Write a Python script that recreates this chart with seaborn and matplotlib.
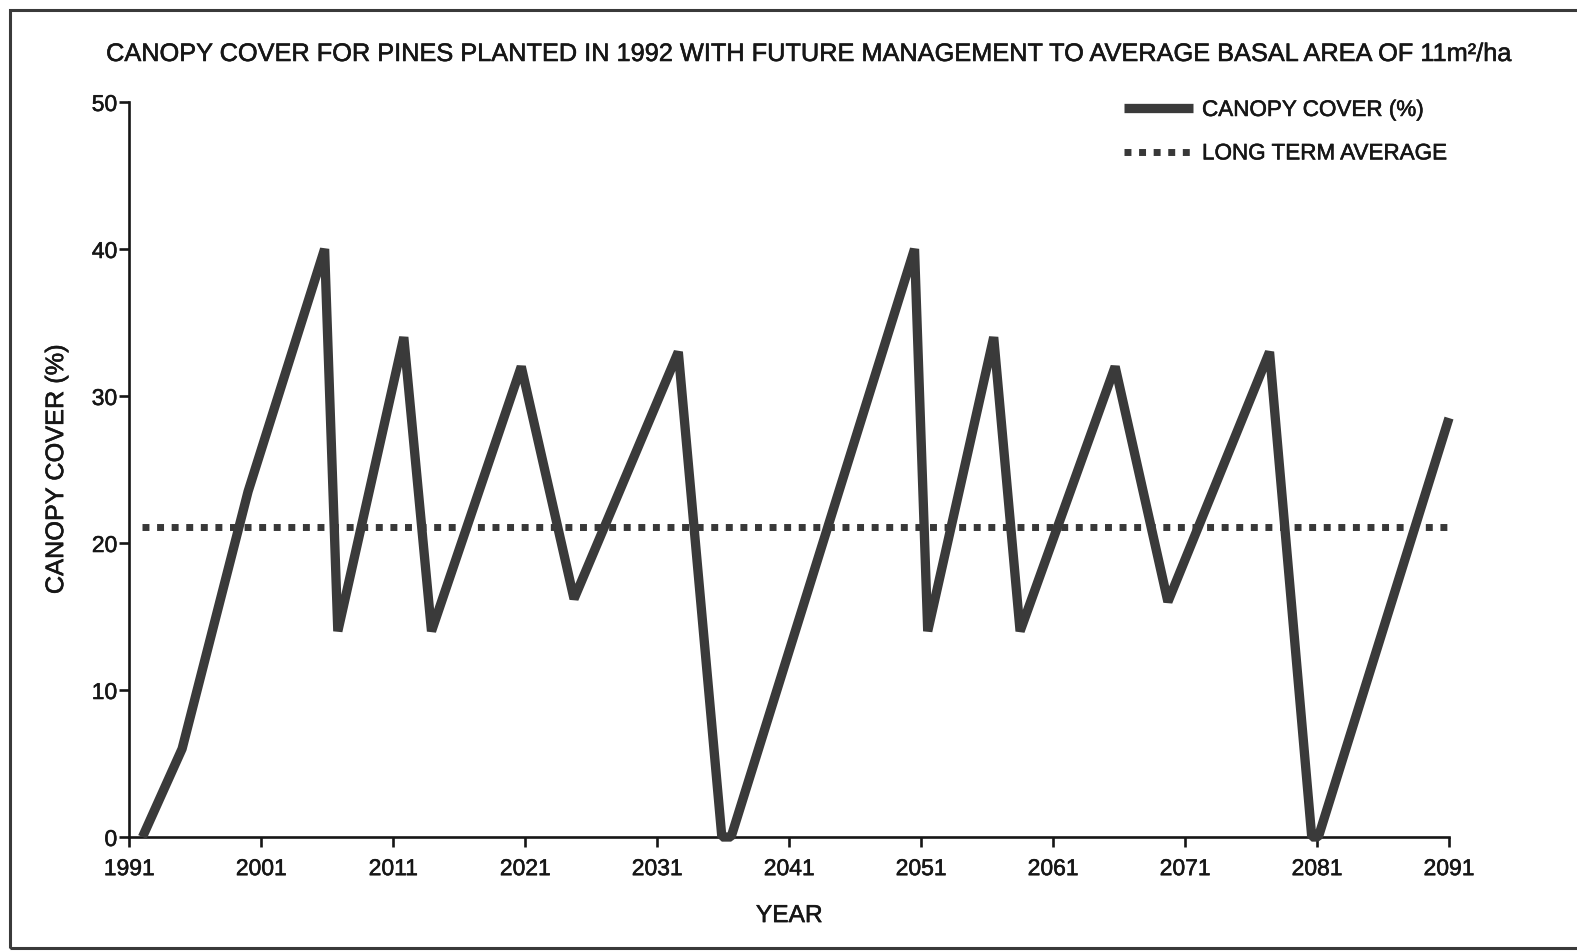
import matplotlib
matplotlib.use("Agg")
import matplotlib.pyplot as plt
import matplotlib.patheffects as pe
import seaborn as sns
import pandas as pd
from matplotlib.patches import Rectangle

# ---- data ----
years = [1992, 1995, 2000, 2005.8, 2006.8, 2011.8, 2013.9, 2020.7, 2024.7,
         2032.6, 2035.9, 2036.6, 2050.5, 2051.5, 2056.5, 2058.5, 2065.7,
         2069.7, 2077.4, 2080.6, 2081.1, 2091]
canopy_cover = [0, 6, 23.5, 40, 14, 34, 14, 32, 16.2,
                33, 0, 0, 40, 14, 34, 14, 32,
                16, 33, 0, 0, 28.5]
avg_years = [1992, 2091.3]
avg_value = [21.1, 21.1]
x_ticks = [1991, 2001, 2011, 2021, 2031, 2041, 2051, 2061, 2071, 2081, 2091]
y_ticks = [0, 10, 20, 30, 40, 50]

title = "CANOPY COVER FOR PINES PLANTED IN 1992 WITH FUTURE MANAGEMENT TO AVERAGE BASAL AREA OF 11m\u00b2/ha"
series_label = "CANOPY COVER (%)"
avg_label = "LONG TERM AVERAGE"
x_label = "YEAR"
y_label = "CANOPY COVER (%)"

sns.set_theme(style="white")
plt.rcParams["font.family"] = ["Liberation Sans", "DejaVu Sans"]

INK = "#161616"
STROKE = [pe.withStroke(linewidth=0.4, foreground=INK)]
W, H = 1577, 953
fig = plt.figure(figsize=(W / 100, H / 100), dpi=100)
fig.patch.set_facecolor("white")
fig.canvas.draw()
renderer = fig.canvas.get_renderer()


def size_for(s, target_px, base=16.0):
    tmp = fig.text(0, 0, s, fontsize=base)
    w = tmp.get_window_extent(renderer).width
    tmp.remove()
    return base * target_px / w


title_size = size_for(title, 1408)
tick_size = size_for("1991", 51)
legend_size = size_for(series_label, 222)
xlab_size = size_for(x_label, 67)
ylab_size = size_for(y_label, 250)

left, right, bottom, top = 129.3, 1449, 838, 103
ax = fig.add_axes([left / W, 1 - bottom / H, (right - left) / W, (bottom - top) / H])
ax.set_facecolor("white")

df = pd.DataFrame({"year": years, "cover": canopy_cover})
df_avg = pd.DataFrame({"year": avg_years, "cover": avg_value})

sns.lineplot(data=df_avg, x="year", y="cover", ax=ax, color="#383838",
             linewidth=5.0, linestyle=(0, (1, 1.1)), dash_capstyle="butt",
             label=avg_label, sort=False, zorder=3)
sns.lineplot(data=df, x="year", y="cover", ax=ax, color="#3a3a3a",
             linewidth=6.7, solid_joinstyle="bevel", solid_capstyle="butt",
             label=series_label, sort=False, clip_on=False, zorder=4)

ax.set_xlim(1991, 2091)
ax.set_ylim(0, 50)
ax.set_xticks(x_ticks)
ax.set_yticks(y_ticks)

for s in ["top", "right"]:
    ax.spines[s].set_visible(False)
for s in ["left", "bottom"]:
    ax.spines[s].set_color(INK)
    ax.spines[s].set_linewidth(1.9)

ax.tick_params(axis="both", which="major", direction="out",
               width=1.9, color=INK, labelsize=tick_size, labelcolor=INK)
ax.tick_params(axis="x", length=7.5, pad=7, bottom=True)
ax.tick_params(axis="y", length=7.5, pad=1.2, left=True)
for lab in ax.get_xticklabels() + ax.get_yticklabels():
    lab.set_path_effects(STROKE)

ax.set_xlabel(x_label, fontsize=xlab_size, color=INK, labelpad=16.5,
              path_effects=STROKE)
ax.set_ylabel(y_label, fontsize=ylab_size, color=INK, labelpad=17,
              path_effects=STROKE)

# legend (canopy cover first)
handles, labels = ax.get_legend_handles_labels()
order = [labels.index(series_label), labels.index(avg_label)]
lpx = legend_size * 100 / 72
leg = ax.legend([handles[i] for i in order], [labels[i] for i in order],
                loc="upper left",
                bbox_to_anchor=(1124 / W, 1 - (114 - 0.58 * lpx) / H),
                bbox_transform=fig.transFigure, frameon=False, fontsize=legend_size,
                handlelength=69 / lpx, handletextpad=9 / lpx,
                labelspacing=(43 + 5.5 - 1.16 * lpx) / lpx,
                borderpad=0, borderaxespad=0)
for t in leg.get_texts():
    t.set_color(INK)
    t.set_path_effects(STROKE)

fig.text(810 / W, 1 - 55 / H, title, ha="center", va="center",
         fontsize=title_size, color=INK, path_effects=STROKE)

# outer frame (left, top, bottom; right edge runs off the picture)
fig.patches.append(Rectangle((10 / W, 1 - 949 / H), (W + 60) / W, (949 - 11) / H,
                             transform=fig.transFigure, fill=False,
                             edgecolor="#3a3a3a", linewidth=2.2, zorder=0))

fig.savefig("out.png", dpi=100, facecolor="white")
